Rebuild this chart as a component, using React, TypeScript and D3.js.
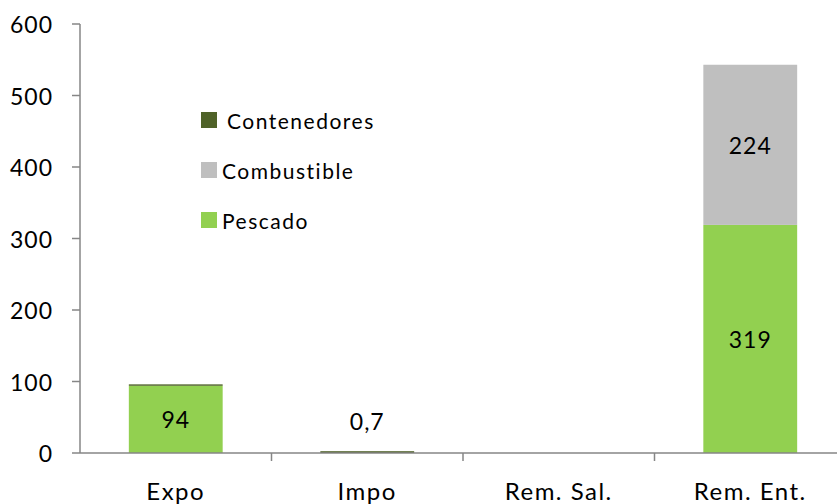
import React from 'react';
import * as d3 from 'd3';

const categories = ['Expo', 'Impo', 'Rem. Sal.', 'Rem. Ent.'];
const pescado = [94, 0, 0, 319];
const combustible = [0, 0, 0, 224];
const contenedores = [2, 2.5, 0, 0];
const pescadoLabels = ['94', '', '', '319'];
const combustibleLabels = ['', '', '', '224'];
const contenedoresLabels = ['', '0,7', '', ''];
const yTicks = [0, 100, 200, 300, 400, 500, 600];

const seriesKeys = ['Pescado', 'Combustible', 'Contenedores'];
const colors: Record<string, string> = {
  Pescado: '#92D050',
  Combustible: '#BFBFBF',
  Contenedores: '#4F6228',
};
const legendOrder = ['Contenedores', 'Combustible', 'Pescado'];

const W = 837;
const H = 504;
const FONT = 'Lato, Carlito, "Liberation Sans", sans-serif';

const App: React.FC = () => {
  const rows = categories.map((c, i) => ({
    cat: c,
    Pescado: pescado[i],
    Combustible: combustible[i],
    Contenedores: contenedores[i],
  }));
  const labelMap: Record<string, string[]> = {
    Pescado: pescadoLabels,
    Combustible: combustibleLabels,
    Contenedores: contenedoresLabels,
  };

  const x = d3.scaleBand<string>().domain(categories).range([80, 846]).paddingInner(0.51).paddingOuter(0.255);
  const band = d3.scaleBand<string>().domain(categories).range([80, 846]);
  const y = d3.scaleLinear().domain([0, 600]).range([453, 24]);

  const stacked = d3.stack<any>().keys(seriesKeys)(rows);

  const axisColor = '#868686';

  return (
    <div style={{ position: 'fixed', left: 0, top: 0 }}>
      <svg width={W} height={H} style={{ display: 'block', background: '#fff' }}>
        {/* bars */}
        {stacked.map((s) => (
          <g key={s.key} fill={colors[s.key]}>
            {s.map((d, i) =>
              d[1] - d[0] > 0 ? (
                <rect
                  key={i}
                  x={x(categories[i])}
                  width={x.bandwidth()}
                  y={y(d[1])}
                  height={y(d[0]) - y(d[1])}
                />
              ) : null
            )}
          </g>
        ))}

        {/* data labels */}
        {stacked.map((s) =>
          s.map((d, i) => {
            const t = labelMap[s.key][i];
            if (!t) return null;
            const cx = (x(categories[i]) as number) + x.bandwidth() / 2;
            const big = y(d[0]) - y(d[1]) > 40;
            const cy = big ? (y(d[0]) + y(d[1])) / 2 : y(d[1]) - 30;
            return (
              <text
                key={s.key + i}
                x={cx}
                y={cy}
                textAnchor="middle"
                dominantBaseline="central"
                fontFamily={FONT}
                fontSize={23}
                letterSpacing={1}
                fill="#000"
              >
                {t}
              </text>
            );
          })
        )}

        {/* y axis */}
        <line x1={80} x2={80} y1={y(600)} y2={y(0)} stroke={axisColor} strokeWidth={1.5} />
        {yTicks.map((t) => (
          <g key={t}>
            <line x1={72} x2={80} y1={y(t)} y2={y(t)} stroke={axisColor} strokeWidth={1.5} />
            <text
              x={53}
              y={y(t)}
              textAnchor="end"
              dominantBaseline="central"
              fontFamily={FONT}
              fontSize={23}
              letterSpacing={1}
              fill="#000"
            >
              {t}
            </text>
          </g>
        ))}

        {/* x axis */}
        <line x1={80} x2={W} y1={y(0)} y2={y(0)} stroke={axisColor} strokeWidth={1.5} />
        {categories.map((c, i) => (
          <g key={c}>
            {i > 0 && (
              <line
                x1={band(c)}
                x2={band(c)}
                y1={y(0)}
                y2={y(0) + 8}
                stroke={axisColor}
                strokeWidth={1.5}
              />
            )}
            <text
              x={(band(c) as number) + band.bandwidth() / 2}
              y={500}
              textAnchor="middle"
              fontFamily={FONT}
              fontSize={24}
              letterSpacing={1.5}
              fill="#000"
            >
              {c}
            </text>
          </g>
        ))}

        {/* legend */}
        {legendOrder.map((k, i) => (
          <g key={k} transform={`translate(201, ${112 + i * 50})`}>
            <rect width={16} height={16} fill={colors[k]} />
            <text
              x={k === 'Contenedores' ? 26 : 21}
              y={8}
              dominantBaseline="central"
              fontFamily={FONT}
              fontSize={21}
              letterSpacing={1.5}
              fill="#000"
            >
              {k}
            </text>
          </g>
        ))}
      </svg>
    </div>
  );
};

export default App;
